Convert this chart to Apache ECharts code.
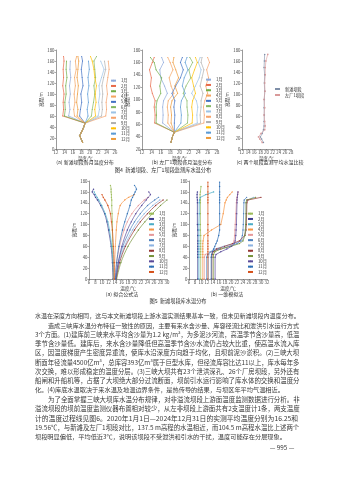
<!DOCTYPE html>
<html><head><meta charset="utf-8">
<script src="https://cdn.jsdelivr.net/npm/echarts@6/dist/echarts.min.js"></script>
<style>html,body{margin:0;padding:0;background:#fff}#c{width:339px;height:480px}</style>
</head><body><div id="c"></div>
<script>
const months = ['1月','2月','3月','4月','5月','6月','7月','8月','9月','10月','11月','12月'];

// 图4(a) 新滩坝段各月温度分布
const elevA = [12, 18, 24, 30, 38, 47, 60, 72, 85, 100, 115, 130, 145, 160, 168];
const baseA = [18.3, 18.0, 17.6, 18.0, 18.5, 18.9];
const upperA = [
  [15.0, 15.3, 15.1, 15.4, 15.2, 15.5, 15.3, 15.4, null],
  [13.6, 13.8, 13.7, 13.9, 13.6, 13.8, 13.7, 13.9, 13.8],
  [14.0, 14.2, 14.1, 14.4, 14.3, 14.6, 14.4, 14.5, null],
  [16.4, 16.2, 16.5, 16.3, 16.6, 16.4, 16.8, 16.6, 16.9],
  [17.6, 17.8, 18.1, 17.9, 18.4, 18.2, 18.0, 18.3, 18.1],
  [20.4, 20.6, 20.9, 21.2, 21.0, 21.4, 21.2, 21.0, 21.6],
  [22.0, 22.3, 22.1, 22.4, 22.2, 22.8, 23.4, 22.6, null],
  [23.8, 24.0, 23.9, 24.2, 24.0, 24.3, 24.6, 24.4, null],
  [22.8, 23.0, 22.9, 23.1, 22.9, 23.3, 23.8, 23.5, null],
  [21.4, 21.2, 21.5, 21.3, 21.6, 21.2, 21.0, 20.6, 20.2],
  [19.6, 19.4, 19.7, 19.5, 19.8, 19.6, 19.9, 19.7, null],
  [17.0, 17.2, 16.9, 17.1, 17.3, 17.0, 17.2, 17.4, 17.2]
];

// 图4(b) 左厂1坝段各月温度分布
const elevB = [31, 40, 47, 62, 75, 88, 98, 110, 122, 135, 148, 160, 168];
const baseB = [18.2, 18.5, 18.9];
const upperB = [
  [16.4, 16.5, 16.4, 16.6, 17.4, 16.8, 16.0, 15.8, 16.6, 16.2],
  [14.7, 14.8, 14.6, 14.8, 14.2, 13.8, 14.0, 13.6, 14.2, 14.6],
  [15.0, 15.1, 15.0, 15.2, 16.0, 15.8, 16.2, 15.0, 14.6, 13.8],
  [17.5, 17.6, 17.4, 17.6, 18.8, 18.2, 17.8, 18.6, 18.0, 17.5],
  [18.9, 19.0, 18.8, 19.0, 18.4, 19.2, 20.2, 20.8, 20.2, 20.6],
  [21.7, 21.8, 21.6, 21.6, 20.8, 21.4, 22.4, 22.0, 22.8, 22.2],
  [23.8, 23.7, 23.9, 23.6, 22.6, 23.4, 24.2, 24.6, 24.0, 24.4],
  [25.2, 25.3, 25.1, 25.4, 26.0, 25.6, 26.2, 25.8, 26.4, 26.0],
  [24.5, 24.4, 24.6, 24.6, 25.0, 24.4, 24.8, 25.2, 24.6, 24.8],
  [22.7, 22.8, 22.6, 22.8, 23.4, 23.0, 22.6, 23.2, 23.8, 23.4],
  [20.3, 20.4, 20.2, 20.4, 21.2, 20.6, 21.0, 21.8, 21.2, 21.6],
  [18.2, 18.3, 18.1, 18.4, 19.6, 19.0, 19.8, 19.2, 18.6, 18.8]
];

// 图4(c) 两个坝段监测平均水温比较
const elevC = [12, 18, 22, 28, 35, 42, 50, 62, 75, 90, 105, 120, 135, 148, 160, 172];
const xintanC = [19.0, 18.4, 18.0, 18.6, 19.0, 19.2, 19.2, 19.3, 19.2, 19.3, 19.4, 19.3, 19.4, 19.2, 19.3, 19.4];
const zuochangC = [18.6, 17.8, 17.4, 18.2, 19.4, 19.6, 19.4, 19.2, 19.4, 19.2, 19.5, 19.4, 19.6, 19.6, 19.8, 20.4];

// 图5(a) 拟合公式法
const elevFit = [0, 30, 60, 90, 105, 120, 135, 145, 150, 155, 160, 165, 172];
const fitTemps = [
  [13.5, 13.4, 13.3, 13.2, 13.2, 13.1, 13.0, 13.0, 12.9, 12.9, 12.8, 12.8, 12.6],
  [13.4, 13.2, 12.8, 12.0, 11.5, 10.8, 9.6, 8.6, 8.0, 7.6, 7.0, 7.4, null],
  [13.6, 13.4, 13.0, 12.3, 11.8, 11.0, 9.9, 9.0, 8.5, 8.0, 7.6, null, null],
  [13.7, 13.9, 14.1, 14.4, 14.6, 15.0, 15.6, 17.0, 18.2, 20.0, null, null, null],
  [14.0, 14.5, 15.4, 16.8, 17.8, 19.2, 21.2, 23.0, 24.2, null, null, null, null],
  [14.2, 15.0, 16.4, 18.6, 20.0, 21.8, 24.0, 26.2, 27.4, null, null, null, null],
  [14.3, 15.2, 16.9, 19.4, 21.0, 23.0, 25.6, 27.8, null, null, null, null, null],
  [14.4, 15.4, 17.2, 20.0, 21.8, 24.0, 26.5, 28.8, null, null, null, null, null],
  [14.5, 15.8, 18.0, 21.2, 23.2, 25.5, 28.0, 30.0, null, null, null, null, null],
  [14.3, 15.0, 16.1, 17.8, 19.0, 20.4, 22.2, 23.6, 24.2, 24.9, 24.4, null, null],
  [14.1, 14.5, 15.2, 16.3, 17.0, 17.8, 18.6, 19.0, 19.4, 19.8, 20.2, 20.6, 20.0],
  [13.8, 13.7, 13.5, 13.2, 12.9, 12.6, 11.8, 10.9, 10.4, 10.0, null, null, null]
];

// 图5(b) 一维模拟法
const elevSim = [0, 40, 45, 50, 55, 60, 65, 70, 80, 90, 100, 120, 140, 145, 150, 155, 160, 170, 178];
const simTemps = [
  [9.9, 9.9, 9.9, 9.9, 9.9, 9.9, 9.9, 9.9, 9.9, 9.8, 9.8, 9.8, 9.8, 9.8, 9.7, 9.7, 9.8, 10.0, null],
  [8.9, 8.9, 8.9, 8.9, 8.9, 8.9, 8.9, 8.9, 8.9, 8.9, 8.8, 8.8, 8.8, 8.8, 8.7, 8.7, 8.8, null, null],
  [9.3, 9.3, 9.3, 9.3, 9.3, 9.3, 9.3, 9.3, 9.3, 9.3, 9.3, 9.4, 9.4, 9.5, 9.8, 11.6, 14.2, null, null],
  [10.6, 10.6, 10.6, 10.6, 10.6, 10.6, 10.6, 10.7, 11.0, 13.5, 16.6, 17.4, 18.0, 18.4, 18.8, 19.6, 20.4, null, null],
  [11.1, 11.1, 11.4, 13.5, 16.8, 19.4, 20.6, 21.0, 21.2, 21.3, 21.4, 21.6, 21.8, 21.9, 22.0, 22.2, 22.4, null, null],
  [11.9, 11.9, 12.2, 13.2, 16.0, 19.5, 22.0, 23.2, 23.8, 24.0, 24.1, 24.2, 24.3, 24.4, 25.2, null, null, null, null],
  [12.5, 12.5, 12.6, 13.0, 14.5, 17.5, 21.0, 23.6, 24.6, 24.8, 24.9, 25.0, 25.1, 25.4, 27.6, null, null, null, null],
  [13.6, 13.6, 13.7, 14.0, 15.2, 17.8, 20.5, 22.8, 24.6, 25.0, 25.1, 25.2, 25.3, 25.6, 30.0, null, null, null, null],
  [14.1, 14.1, 14.2, 14.6, 16.5, 20.0, 22.8, 24.0, 24.6, 24.8, 24.9, 25.0, 25.0, 25.2, 28.2, null, null, null, null],
  [14.7, 14.7, 15.0, 16.6, 18.6, 20.2, 21.0, 21.4, 21.6, 21.7, 21.8, 21.9, 22.0, 22.0, 22.1, 22.2, 22.3, null, null],
  [13.4, 13.4, 13.5, 13.8, 14.2, 14.6, 15.0, 15.4, 15.9, 16.2, 16.2, 16.2, 16.2, 16.2, 16.2, 16.2, 16.2, 16.2, 16.2],
  [12.3, 12.3, 12.3, 12.3, 12.3, 12.3, 12.3, 12.3, 12.3, 12.3, 12.3, 12.3, 12.3, 12.3, 12.3, 12.3, 12.3, 12.3, 12.3]
];

const bodyLines = [
  '水温在深度方向相同，这与本文新滩坝段上游水温实测结果基本一致，但未见新滩坝段内温度分布。',
  '造成三峡库水温分布特征一致性的原因，主要有来水含沙量、库容径流比和泄洪引水运行方式',
  '3个方面。(1)建库前三峡来水平均含沙量为1.2 kg/m³，为多泥沙河流，高温季节含沙量高，低温',
  '季节含沙量低。建库后，来水含沙量降低但高温季节含沙水流仍占较大比重，使高温水流入库',
  '区，因温度梯度产生密度异重流，使库水沿深度方向趋于均化，且坝前泥沙淤积。(2)三峡大坝',
  '断面年径流量4500亿m³，总库容393亿m³属于巨型水库，但径流库容比达11以上，库水每年多',
  '次交换，难以形成稳定的温度分层。(3)三峡大坝共有23个泄洪深孔、26个厂房坝段，另外还有',
  '船闸和升船机等，占据了大坝绝大部分过流断面，坝前引水运行影响了库水体的交换和温度分',
  '化。(4)库底水温取决于来水温及地温边界条件，是热传导的结果，与坝区年平均气温相近。',
  '为了全面掌握三峡大坝库水温分布规律，对非溢流坝段上游面温度监测数据进行分析。非',
  '溢流坝段的坝前温度监测仪器布置相对较少，从左非坝段上游面共有2支温度计1条，两支温度',
  '计的温度过程线见图6。2020年1月1日—2024年12月31日的实测平均温度分别为16.25和',
  '19.56℃，与新滩及左厂1坝段对比，137.5 m高程的水温相近，而104.5 m高程水温比上述两个',
  '坝段明显偏低，平均低近3℃，说明该坝段不受泄洪和引水的干扰，温度可能存在分层现象。'
];
const bodyY = [316, 325.3, 334.5, 343.8, 353, 362.3, 371.5, 380.8, 390, 399.5, 408.8, 418, 427.3, 436.5];
const bodyIndent = [0, 1, 0, 0, 0, 0, 0, 0, 0, 1, 0, 0, 0, 0];
const bodyLast = [0, 0, 0, 0, 0, 0, 0, 0, 1, 0, 0, 0, 0, 1];

const topColors = ['#8ea9db','#e86a4a','#70ad47','#f4a460','#4472c4','#84b762','#9dc3e6','#f6a26b','#b0b0b0','#ffc000','#5b9bd5','#ed9a3a'];
const botColors = ['#9bbb59','#3f3c8f','#4bacc6','#f79646','#e6989a','#4f81bd','#8db3e2','#953735','#77933c','#5a4a9a','#2e6fb5','#d5501a'];

const F = "'Noto Sans CJK SC','Noto Sans',sans-serif";
const chart = echarts.init(document.getElementById('c'), null, {renderer: 'canvas'});

function xAx(g, min, max) {
  return {type: 'value', gridIndex: g, min: min, max: max, interval: 2,
    name: '温度/℃', nameLocation: 'middle', nameGap: 6.5,
    nameTextStyle: {fontSize: 4.6, color: '#333', fontFamily: F},
    axisLine: {lineStyle: {color: '#555', width: 0.6}},
    axisTick: {length: 1.5, lineStyle: {width: 0.5, color: '#555'}},
    axisLabel: {fontSize: 4.3, margin: 1.6, color: '#444', fontFamily: F},
    splitLine: {show: false}};
}
function yAx(g, min, max) {
  return {type: 'value', gridIndex: g, min: min, max: max, interval: 20,
    name: '高程/m', nameLocation: 'middle', nameGap: 9, nameRotate: 90,
    nameTextStyle: {fontSize: 4.6, color: '#333', fontFamily: F},
    axisLine: {show: true, lineStyle: {color: '#555', width: 0.6}},
    axisTick: {show: true, length: 1.5, lineStyle: {width: 0.5, color: '#555'}},
    axisLabel: {fontSize: 4.3, margin: 1.6, color: '#444', fontFamily: F},
    splitLine: {show: false}};
}
function pairs(temps, elevs) {
  return temps.map((t, j) => [t, elevs[j]]).filter(p => p[0] !== null);
}

const series = [];
months.forEach((m, i) => {
  series.push({name: 'A|' + m, type: 'line', xAxisIndex: 0, yAxisIndex: 0,
    data: pairs(baseA.concat(upperA[i]), elevA), symbol: 'circle', symbolSize: 1,
    lineStyle: {width: 0.7, color: topColors[i]}, itemStyle: {color: topColors[i]}});
  series.push({name: 'B|' + m, type: 'line', xAxisIndex: 1, yAxisIndex: 1,
    data: pairs(baseB.concat(upperB[i]), elevB), symbol: 'circle', symbolSize: 1,
    lineStyle: {width: 0.7, color: topColors[i]}, itemStyle: {color: topColors[i]}});
  series.push({name: 'D|' + m, type: 'line', xAxisIndex: 3, yAxisIndex: 3,
    data: pairs(fitTemps[i], elevFit), smooth: 0.3, symbol: 'circle', symbolSize: 1.4,
    lineStyle: {width: 0.7, color: botColors[i]}, itemStyle: {color: botColors[i]}});
  series.push({name: 'E|' + m, type: 'line', xAxisIndex: 4, yAxisIndex: 4,
    data: pairs(simTemps[i], elevSim), symbol: 'circle', symbolSize: 1.4,
    lineStyle: {width: 0.7, color: botColors[i]}, itemStyle: {color: botColors[i]}});
});
series.push({name: 'C|新滩坝段', type: 'line', xAxisIndex: 2, yAxisIndex: 2,
  data: pairs(xintanC, elevC), symbol: 'circle', symbolSize: 1.5,
  lineStyle: {width: 0.6, color: '#7f8fa8'}, itemStyle: {color: '#7f8fa8'}});
series.push({name: 'C|左厂1坝段', type: 'line', xAxisIndex: 2, yAxisIndex: 2,
  data: pairs(zuochangC, elevC), symbol: 'rect', symbolSize: 1.5,
  lineStyle: {width: 0.6, color: '#d99a9a'}, itemStyle: {color: '#d99a9a'}});

function legend(prefix, names, left, top, lh) {
  return {data: names.map(n => prefix + n), left: left, top: top, orient: 'vertical',
    itemWidth: 5, itemHeight: 2, itemGap: 0, padding: 0, selectedMode: false,
    formatter: n => n.split('|')[1],
    textStyle: {fontSize: 4.2, lineHeight: lh, height: lh, color: '#333', fontFamily: F}};
}

const graphics = [];
function txt(s, x, y, size, align, color) {
  graphics.push({type: 'text', silent: true,
    style: {text: s, x: x, y: y, fontSize: size, fontFamily: F, fill: color || '#2a2a2a',
      textAlign: align || 'center', textVerticalAlign: 'middle'}});
}
txt('(a) 新滩坝段各月温度分布', 85, 162.5, 5);
txt('(b) 左厂1坝段各月温度分布', 182, 162.5, 5);
txt('(c) 两个坝段监测平均水温比较', 270, 162.5, 5);
txt('图4  新滩坝段、左厂1坝段监测库水温分布', 163, 170, 5.2);
txt('(a) 拟合公式法', 122, 294.5, 5);
txt('(b) 一维模拟法', 227, 294.5, 5);
txt('图5  新滩坝段库水温分布', 178, 301, 5.2);

// fit each body line to the text block width (like justified print text)
const mctx = document.createElement('canvas').getContext('2d');
bodyLines.forEach((s, i) => {
  const x0 = 35 + bodyIndent[i] * 13;
  mctx.font = '6px ' + F;
  const w = mctx.measureText(s).width;
  let fs = 6 * (300 - x0) / w;
  fs = Math.max(5.3, Math.min(bodyLast[i] ? 6.2 : 6.8, fs));
  txt(s, x0, bodyY[i], fs, 'left', '#3a3a3a');
});
txt('— 995 —', 282, 448, 6.3, 'center', '#3a3a3a');

chart.setOption({
  animation: false,
  backgroundColor: '#fff',
  grid: [
    {left: 56, top: 50, width: 59, height: 99},
    {left: 142, top: 50, width: 75, height: 99},
    {left: 242, top: 50, width: 49, height: 99},
    {left: 89, top: 181, width: 78, height: 98},
    {left: 189, top: 181, width: 78, height: 98}
  ],
  xAxis: [xAx(0, 12, 26), xAx(1, 12, 28), xAx(2, 12, 28), xAx(3, 6, 30), xAx(4, 6, 32)],
  yAxis: [yAx(0, 0, 180), yAx(1, 20, 180), yAx(2, 0, 180), yAx(3, 0, 180), yAx(4, 0, 180)],
  legend: [
    legend('A|', months, 110, 78, 5.3),
    legend('B|', months, 205, 77, 5.3),
    legend('C|', ['新滩坝段', '左厂1坝段'], 274, 86, 6),
    legend('D|', months, 148, 211, 5.3),
    legend('E|', months, 247, 211, 5.3)
  ],
  series: series,
  graphic: graphics
});
</script>
</body></html>
